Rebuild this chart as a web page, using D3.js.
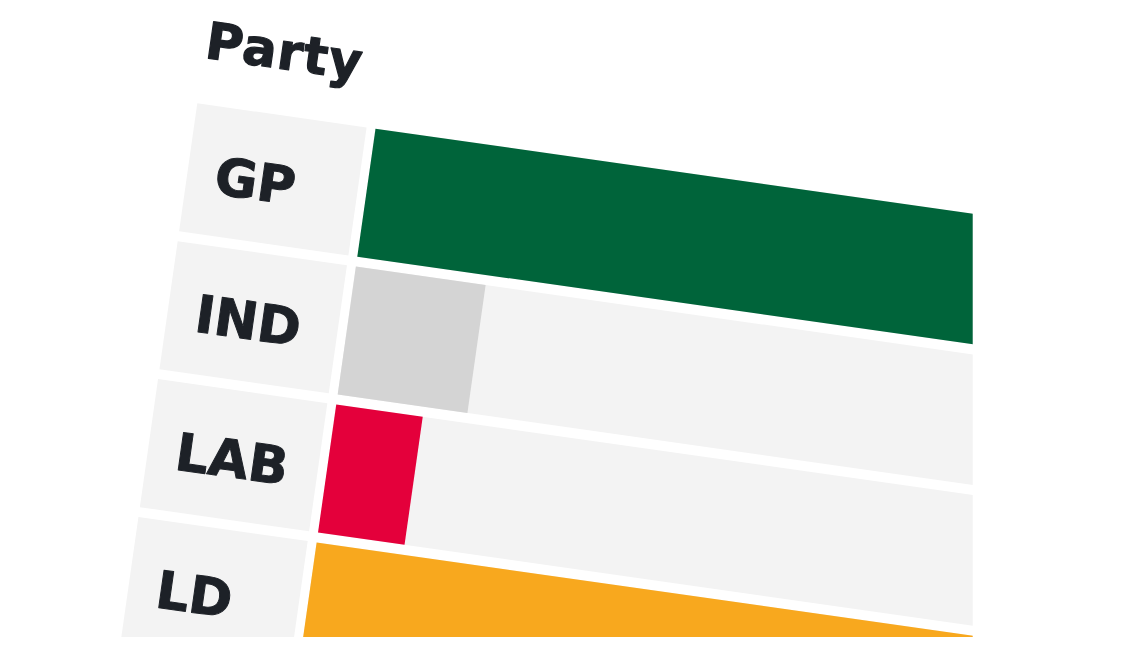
<!DOCTYPE html>
<html>
<head>
<meta charset="utf-8">
<script src="https://cdn.jsdelivr.net/npm/d3@7"></script>
<style>
  html, body { margin: 0; padding: 0; background: #ffffff; }
  svg { display: block; }
</style>
</head>
<body>
<div id="chart"></div>
<script>
// ---- data ----
const header = "Party";
const parties = ["GP", "IND", "LAB", "LD"];
const seats = [19, 3, 2, 17];
const partyColors = ["#00643a", "#d4d4d4", "#e4003b", "#f8a81e"];
const maxValue = 19;

// ---- layout ----
const W = 1126, H = 660;
const clipW = 972.7, clipH = 637;
const angle = 8.1;              // the whole table is photographed tilted
const origin = [197.3, 103.3];
const rowPitch = 139.3, rowGap = 10;
const labelW = 171, barX0 = 180, trackW = 830;
const ink = "#1d2127";

const svg = d3.select("#chart").append("svg")
  .attr("width", W).attr("height", H);

svg.append("defs").append("clipPath").attr("id", "frame")
  .append("rect").attr("x", 0).attr("y", 0).attr("width", clipW).attr("height", clipH);

const outer = svg.append("g").attr("clip-path", "url(#frame)");
const g = outer.append("g")
  .attr("transform", `translate(${origin[0]},${origin[1]}) rotate(${angle})`);

const y = d3.scaleBand()
  .domain(parties)
  .range([0, parties.length * rowPitch - rowGap])
  .paddingInner(rowGap / rowPitch)
  .paddingOuter(0);

const x = d3.scaleLinear().domain([0, maxValue]).range([barX0, barX0 + trackW]);

const rows = parties.map((p, i) => ({ party: p, value: seats[i], color: partyColors[i] }));

// header
g.append("text")
  .attr("x", 0).attr("y", -46)
  .attr("font-family", "'DejaVu Sans', sans-serif")
  .attr("font-weight", 700)
  .attr("font-size", 51)
  .attr("letter-spacing", 1)
  .attr("fill", ink)
  .attr("stroke", ink).attr("stroke-width", 1.2).attr("stroke-linejoin", "round")
  .text(header);

const row = g.selectAll("g.row").data(rows).enter().append("g")
  .attr("class", "row")
  .attr("transform", d => `translate(0,${y(d.party)})`);

// label cell
row.append("rect")
  .attr("x", 0).attr("y", 0)
  .attr("width", labelW).attr("height", y.bandwidth())
  .attr("fill", "#f3f3f3");

// track
row.append("rect")
  .attr("x", x(0)).attr("y", 0)
  .attr("width", x(maxValue) - x(0)).attr("height", y.bandwidth())
  .attr("fill", "#f3f3f3");

// bar
row.append("rect")
  .attr("x", x(0)).attr("y", 0)
  .attr("width", d => x(d.value) - x(0)).attr("height", y.bandwidth())
  .attr("fill", d => d.color);

// label
row.append("text")
  .attr("x", 28).attr("y", 87)
  .attr("font-family", "'DejaVu Sans', sans-serif")
  .attr("font-weight", 700)
  .attr("font-size", 52)
  .attr("fill", ink)
  .attr("stroke", ink).attr("stroke-width", 1).attr("stroke-linejoin", "round")
  .text(d => d.party);
</script>
</body>
</html>
